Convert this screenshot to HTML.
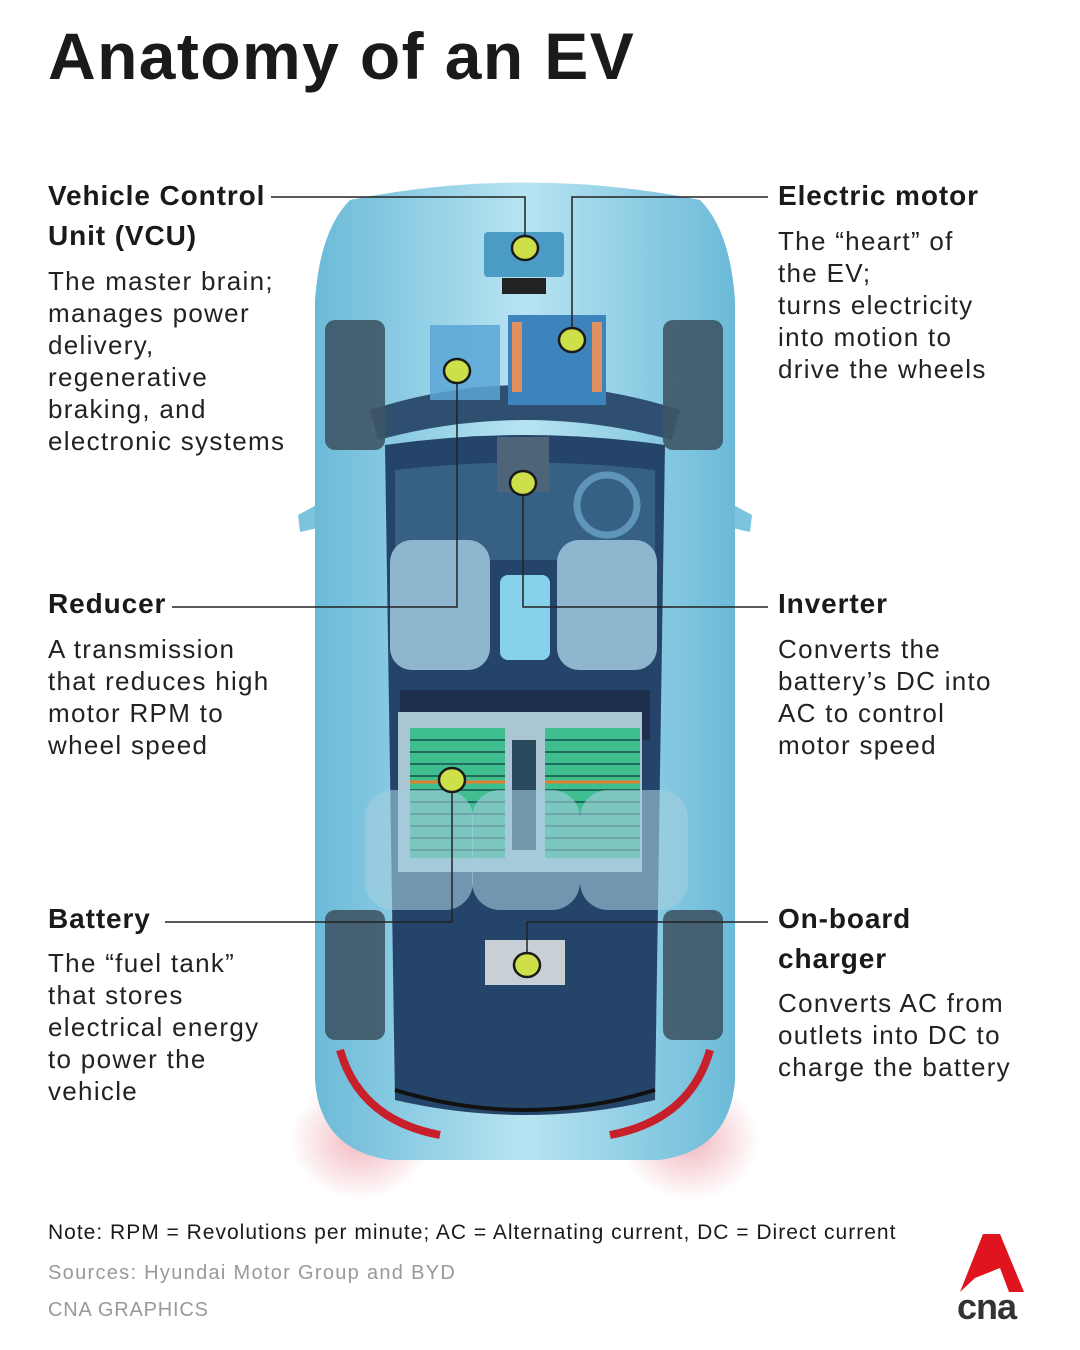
<!DOCTYPE html>
<html><head><meta charset="utf-8"><style>
body{margin:0;width:1080px;height:1350px;background:#fff;position:relative;overflow:hidden;font-family:"Liberation Sans","DejaVu Sans",sans-serif;color:#1a1a1a}
.t{position:absolute;white-space:nowrap}
h1{position:absolute;left:48px;top:18px;margin:0;font-size:66px;font-weight:bold;letter-spacing:1.4px}
.h{font-size:28px;font-weight:bold;line-height:40px;letter-spacing:0.9px}
.d{font-size:26px;line-height:32px;color:#222;letter-spacing:1.3px}
</style></head><body>
<h1>Anatomy of an EV</h1>
<svg width="1080" height="1350" style="position:absolute;left:0;top:0">
<defs>
<radialGradient id="glow" cx="50%" cy="50%" r="50%"><stop offset="0" stop-color="#e06070" stop-opacity=".45"/><stop offset="1" stop-color="#e06070" stop-opacity="0"/></radialGradient>
<linearGradient id="bd" x1="0" x2="1"><stop offset="0" stop-color="#6bbad8"/><stop offset=".5" stop-color="#b8e4f2"/><stop offset="1" stop-color="#6bbad8"/></linearGradient>
</defs>
<ellipse cx="360" cy="1140" rx="70" ry="60" fill="url(#glow)"/>
<ellipse cx="690" cy="1140" rx="70" ry="60" fill="url(#glow)"/>
<!-- mirrors -->
<path d="M335 495 L298 515 L300 532 L345 522Z" fill="#7cc4de"/>
<path d="M715 495 L752 515 L750 532 L705 522Z" fill="#7cc4de"/>
<!-- body -->
<path d="M350 200 Q525 165 700 200 Q730 230 735 300 L735 1080 Q730 1150 660 1160 L390 1160 Q320 1150 315 1080 L315 300 Q320 230 350 200Z" fill="url(#bd)"/>
<!-- cabin -->
<path d="M385 445 Q525 425 665 445 L655 1100 Q525 1130 395 1100Z" fill="#24446a"/>
<path d="M395 470 Q525 455 655 470 L655 560 L395 560Z" fill="#3f6c90" opacity=".7"/>
<rect x="400" y="690" width="250" height="50" fill="#1d2f4c"/>
<!-- dash -->
<path d="M370 410 Q525 360 680 410 L672 440 Q525 400 378 440Z" fill="#2e4f6f"/>
<!-- wheels -->
<rect x="325" y="320" width="60" height="130" rx="10" fill="#3e5566" opacity=".9"/>
<rect x="663" y="320" width="60" height="130" rx="10" fill="#3e5566" opacity=".9"/>
<rect x="325" y="910" width="60" height="130" rx="10" fill="#3e5566" opacity=".9"/>
<rect x="663" y="910" width="60" height="130" rx="10" fill="#3e5566" opacity=".9"/>
<!-- seats -->
<rect x="390" y="540" width="100" height="130" rx="22" fill="#8fb6cf"/>
<rect x="557" y="540" width="100" height="130" rx="22" fill="#8fb6cf"/>
<rect x="500" y="575" width="50" height="85" rx="8" fill="#86d2ea"/>
<!-- battery -->
<rect x="398" y="712" width="244" height="160" fill="#a9c6d2"/>
<g fill="#3fbf90">
<rect x="410" y="728" width="95" height="130"/><rect x="545" y="728" width="95" height="130"/>
</g>
<g stroke="#1f6c5c" stroke-width="2">
<path d="M410 740H505M410 752H505M410 764H505M410 776H505M410 790H505M410 802H505M410 814H505M410 826H505M410 838H505M410 850H505"/>
<path d="M545 740H640M545 752H640M545 764H640M545 776H640M545 790H640M545 802H640M545 814H640M545 826H640M545 838H640M545 850H640"/>
</g>
<path d="M410 782H505M545 782H640" stroke="#e08030" stroke-width="3"/>
<rect x="512" y="740" width="24" height="110" fill="#2a4a60"/>
<!-- rear seats -->
<rect x="365" y="790" width="108" height="120" rx="28" fill="#a4cde0" opacity=".6"/>
<rect x="472" y="790" width="108" height="120" rx="28" fill="#a4cde0" opacity=".6"/>
<rect x="580" y="790" width="108" height="120" rx="28" fill="#a4cde0" opacity=".6"/>
<!-- trunk -->
<rect x="485" y="940" width="80" height="45" fill="#c8d0d6"/>
<path d="M395 1090 Q525 1130 655 1090" stroke="#111" stroke-width="4" fill="none"/>
<!-- tail lights -->
<path d="M340 1050 Q360 1120 440 1135" stroke="#c8202a" stroke-width="8" fill="none"/>
<path d="M710 1050 Q690 1120 610 1135" stroke="#c8202a" stroke-width="8" fill="none"/>
<!-- front components -->
<rect x="484" y="232" width="80" height="45" rx="4" fill="#4a9cc4"/>
<rect x="502" y="278" width="44" height="16" fill="#222"/>
<rect x="508" y="315" width="98" height="90" fill="#3d84bc"/>
<g fill="#e09060"><rect x="512" y="322" width="10" height="70"/><rect x="592" y="322" width="10" height="70"/></g>
<rect x="430" y="325" width="70" height="75" fill="#5aa6d6" opacity=".85"/>
<rect x="497" y="437" width="52" height="55" fill="#4e6478"/>
<circle cx="607" cy="505" r="30" fill="none" stroke="#5e95b8" stroke-width="7"/>
<!-- lines -->
<g stroke="#222" stroke-width="1.5" fill="none">
<path d="M271 197 H525 V248"/>
<path d="M768 197 H572 V340"/>
<path d="M172 607 H457 V371"/>
<path d="M768 607 H523 V483"/>
<path d="M165 922 H452 V780"/>
<path d="M768 922 H527 V965"/>
</g>
<g fill="#cde04a" stroke="#1a1a1a" stroke-width="2.5">
<ellipse cx="525" cy="248" rx="13" ry="12"/><ellipse cx="572" cy="340" rx="13" ry="12"/>
<ellipse cx="457" cy="371" rx="13" ry="12"/><ellipse cx="523" cy="483" rx="13" ry="12"/>
<ellipse cx="452" cy="780" rx="13" ry="12"/><ellipse cx="527" cy="965" rx="13" ry="12"/>
</g>
<!-- logo -->
<path d="M983 1234 L1000 1234 L1024 1292 L1009 1292 L1000 1268 L975 1278 L960 1292 Z" fill="#e0141e"/>
</svg>
<div class="t h" style="left:48px;top:176px">Vehicle Control<br>Unit (VCU)</div>
<div class="t d" style="left:48px;top:265px">The master brain;<br>manages power<br>delivery,<br>regenerative<br>braking, and<br>electronic systems</div>
<div class="t h" style="left:778px;top:176px">Electric motor</div>
<div class="t d" style="left:778px;top:225px">The “heart” of<br>the EV;<br>turns electricity<br>into motion to<br>drive the wheels</div>
<div class="t h" style="left:48px;top:584px">Reducer</div>
<div class="t d" style="left:48px;top:633px">A transmission<br>that reduces high<br>motor RPM to<br>wheel speed</div>
<div class="t h" style="left:778px;top:584px">Inverter</div>
<div class="t d" style="left:778px;top:633px">Converts the<br>battery’s DC into<br>AC to control<br>motor speed</div>
<div class="t h" style="left:48px;top:899px">Battery</div>
<div class="t d" style="left:48px;top:947px">The “fuel tank”<br>that stores<br>electrical energy<br>to power the<br>vehicle</div>
<div class="t h" style="left:778px;top:899px">On-board<br>charger</div>
<div class="t d" style="left:778px;top:987px">Converts AC from<br>outlets into DC to<br>charge the battery</div>
<div class="t" style="left:48px;top:1221px;font-size:21px;letter-spacing:1px">Note: RPM = Revolutions per minute; AC = Alternating current, DC = Direct current</div>
<div class="t" style="left:48px;top:1262px;font-size:20px;color:#999;letter-spacing:1.3px">Sources: Hyundai Motor Group and BYD</div>
<div class="t" style="left:48px;top:1299px;font-size:20px;color:#999;letter-spacing:0.8px">CNA GRAPHICS</div>
<div class="t" style="left:957px;top:1286px;font-size:36px;font-weight:bold;color:#333;letter-spacing:-1px">cna</div>
</body></html>
